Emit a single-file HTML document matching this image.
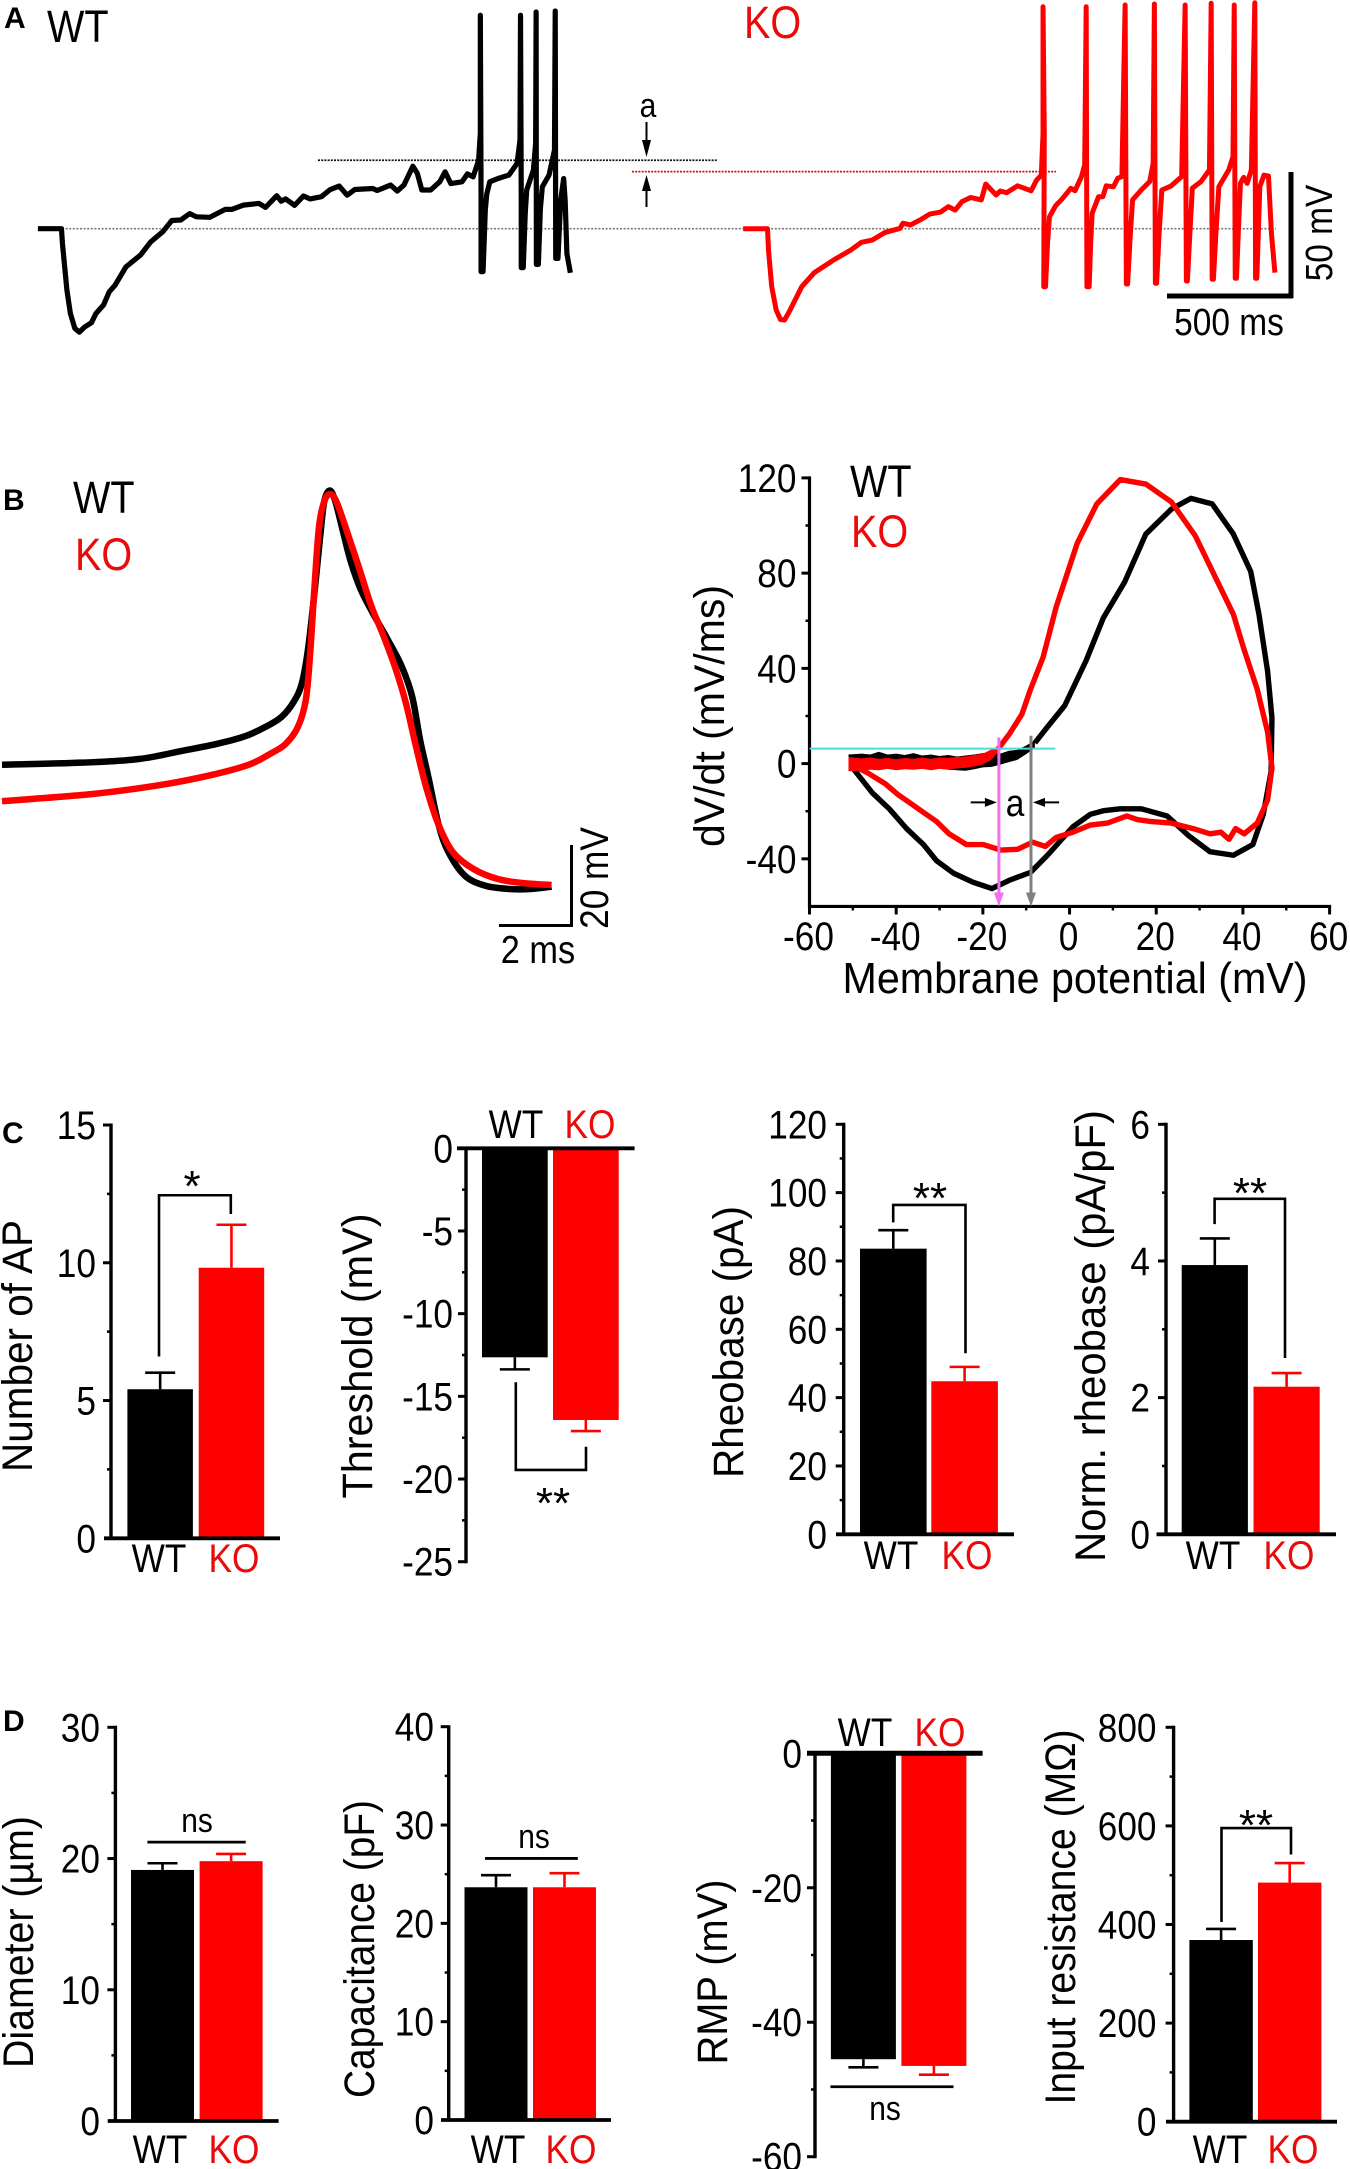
<!DOCTYPE html>
<html lang="en">
<head>
<meta charset="utf-8">
<title>WT vs KO electrophysiology figure</title>
<style>
html,body{margin:0;padding:0;background:#fff;}
svg{display:block;}
text{font-family:"Liberation Sans",sans-serif;fill:#000;}
.letter{font-size:30px;font-weight:bold;}
.legend{font-size:45px;}
.cat{font-size:40px;text-anchor:middle;}
.title{font-size:43px;text-anchor:middle;}
.tick{font-size:40px;}
.scale{font-size:38px;text-anchor:middle;}
.note{font-size:34px;text-anchor:middle;}
.star{font-size:44px;text-anchor:middle;}
.ko{fill:#ea0a0a;}
</style>
</head>
<body>
<svg id="figure" xmlns="http://www.w3.org/2000/svg" width="1350" height="2169" viewBox="0 0 1350 2169">
  <rect x="0" y="0" width="1350" height="2169" fill="#fff"/>

  <!-- Panel A -->
  <text class="letter" x="4" y="28">A</text>
  <text class="legend" x="47" y="42">WT</text>
  <text class="legend ko" x="744" y="38">KO</text>
  <text class="note" x="648" y="117">a</text>
  <g>
    <line x1="646.5" y1="122" x2="646.5" y2="145" stroke="#000" stroke-width="2"/>
    <polygon points="642,140 651,140 646.5,157" fill="#000"/>
    <line x1="646.5" y1="207" x2="646.5" y2="186" stroke="#000" stroke-width="2"/>
    <polygon points="642,191 651,191 646.5,175" fill="#000"/>
  </g>
  <line x1="1291" y1="172" x2="1291" y2="298" stroke="#000" stroke-width="5"/>
  <line x1="1167" y1="296" x2="1293" y2="296" stroke="#000" stroke-width="5"/>
  <text class="scale" x="1229" y="335">500 ms</text>
  <text class="scale" transform="rotate(-90 1332 233)" x="1332" y="233">50 mV</text>

  <!-- Panel B -->
  <text class="letter" x="3" y="510">B</text>
  <text class="legend" x="73" y="513">WT</text>
  <text class="legend ko" x="75" y="570">KO</text>
  <line x1="571.5" y1="845" x2="571.5" y2="927" stroke="#000" stroke-width="3"/>
  <line x1="499" y1="925.5" x2="573" y2="925.5" stroke="#000" stroke-width="3"/>
  <text class="scale" x="538" y="963" style="font-size:39px">2 ms</text>
  <text class="scale" transform="rotate(-90 608 878)" x="608" y="878" style="font-size:40px">20 mV</text>

  <text class="legend" x="850" y="497">WT</text>
  <text class="legend ko" x="851" y="547">KO</text>
  <text class="title" x="1075" y="993" textLength="465" style="font-size:44px">Membrane potential (mV)</text>
  <text class="title" transform="rotate(-90 724 716)" x="724" y="716" textLength="262">dV/dt (mV/ms)</text>
  <text class="note" x="1015" y="816" style="font-size:38px">a</text>

  <!-- Panel C -->
  <text class="letter" x="2" y="1143">C</text>
  <text class="title" transform="rotate(-90 32 1346)" x="32" y="1346" textLength="252">Number of AP</text>
  <text class="cat" x="159" y="1572">WT</text>
  <text class="cat ko" x="234" y="1572">KO</text>
  <text class="star" x="192" y="1201">*</text>

  <text class="title" transform="rotate(-90 372 1356)" x="372" y="1356" textLength="285">Threshold (mV)</text>
  <text class="cat" x="516" y="1138">WT</text>
  <text class="cat ko" x="590" y="1138">KO</text>
  <text class="star" x="553" y="1518">**</text>

  <text class="title" transform="rotate(-90 743 1342)" x="743" y="1342" textLength="272">Rheobase (pA)</text>
  <text class="cat" x="891" y="1569">WT</text>
  <text class="cat ko" x="967" y="1569">KO</text>
  <text class="star" x="930" y="1213">**</text>

  <text class="title" transform="rotate(-90 1105 1336)" x="1105" y="1336" textLength="452">Norm. rheobase (pA/pF)</text>
  <text class="cat" x="1213" y="1569">WT</text>
  <text class="cat ko" x="1289" y="1569">KO</text>
  <text class="star" x="1250" y="1208">**</text>

  <!-- Panel D -->
  <text class="letter" x="3" y="1731">D</text>
  <text class="title" transform="rotate(-90 33 1942)" x="33" y="1942" textLength="252">Diameter (µm)</text>
  <text class="cat" x="160" y="2163">WT</text>
  <text class="cat ko" x="234" y="2163">KO</text>
  <text class="note" x="197" y="1832">ns</text>

  <text class="title" transform="rotate(-90 374 1949)" x="374" y="1949" textLength="298">Capacitance (pF)</text>
  <text class="cat" x="498" y="2163">WT</text>
  <text class="cat ko" x="571" y="2163">KO</text>
  <text class="note" x="534" y="1848">ns</text>

  <text class="title" transform="rotate(-90 727 1972)" x="727" y="1972" textLength="185">RMP (mV)</text>
  <text class="cat" x="865" y="1746">WT</text>
  <text class="cat ko" x="940" y="1746">KO</text>
  <text class="note" x="885" y="2120">ns</text>

  <text class="title" transform="rotate(-90 1075 1917)" x="1075" y="1917" textLength="375">Input resistance (MΩ)</text>
  <text class="cat" x="1220" y="2163">WT</text>
  <text class="cat ko" x="1293" y="2163">KO</text>
  <text class="star" x="1256" y="1840">**</text>
</svg>
<script>
/* ---------- Panel A traces: [time ms, mV relative to pre-pulse baseline] ---------- */
const wtSpikingTrace = [[0,0],[95,0],[99,-6],[108,-15.4],[117,-24.8],[131,-34.2],[149,-40.2],[167,-41.7],[189,-39.6],[216,-37.9],[234,-34.2],[265,-30.7],[288,-25.4],[311,-22.8],[355,-15.4],[414,-10.6],[455,-5.3],[504,-1.2],[540,3.3],[576,3.5],[612,6.1],[639,4.8],[693,4.6],[756,7.8],[783,7.8],[828,9.5],[891,10.2],[918,8.6],[963,13.3],[981,11.1],[999,12],[1035,9.4],[1071,13.2],[1098,12],[1143,12.9],[1179,15.8],[1215,17.2],[1247,13.5],[1278,15.8],[1350,16.2],[1368,15.4],[1422,17.6],[1449,15.2],[1476,17.6],[1512,25.2],[1530,22.3],[1548,15.6],[1584,15.6],[1620,18.9],[1642,22.9],[1665,18.2],[1710,18.9],[1732,22.1],[1755,20.9],[1777,27.6],[1784,38.4],[1784,86.1],[1787,11.5],[1787,-17.3],[1795,-17.3],[1804,7.5],[1810,14],[1822,18.9],[1854,20.2],[1899,21.6],[1932,26.3],[1944,35.7],[1946,86.1],[1949,11.5],[1949,-15.7],[1957,-15.7],[1965,6],[1971,15.6],[1998,23.6],[2007,34.4],[2009,87.4],[2010,-14.4],[2018,-14.4],[2026,8],[2034,16.9],[2061,21.6],[2083,31.7],[2086,87.8],[2088,-12],[2097,-12],[2108,11.5],[2120,20.2],[2126,11.5],[2133,-10],[2147,-17.8]];
const koSpikingTrace = [[0,0],[98,0],[102,-8.6],[115,-23.4],[133,-32.8],[150,-36.6],[167,-36.8],[189,-32.8],[236,-23.4],[287,-17.7],[365,-12.6],[434,-8.6],[477,-5.5],[520,-4.6],[572,-1.5],[632,0.1],[644,2.2],[675,1.5],[718,3.8],[752,5.9],[796,6.7],[827,8.9],[855,7.5],[882,10.9],[917,12.6],[960,11.6],[978,18],[1020,13.6],[1037,15.2],[1062,14.5],[1106,17.3],[1161,15.3],[1183,19.6],[1202,21.6],[1209,38.4],[1209,89.5],[1214,38.4],[1212,-23.4],[1219,-23.4],[1227,-6],[1235,4.8],[1260,9.3],[1286,12],[1321,16.3],[1338,15.3],[1364,21],[1377,25.7],[1383,89.5],[1386,-23.4],[1395,-23.4],[1401,-6],[1407,6.2],[1433,12.9],[1450,12.9],[1464,17.3],[1493,16.9],[1510,20.3],[1527,21],[1540,90.2],[1545,-22.3],[1550,-22.3],[1560,-4],[1570,11.6],[1605,15.6],[1639,19],[1653,26.3],[1658,90.6],[1662,-22],[1667,-22],[1677,-2],[1688,15.6],[1725,17.2],[1768,21],[1782,90.2],[1787,-21.1],[1791,-21.1],[1801,-2],[1811,16.3],[1846,19],[1880,23.7],[1887,90.9],[1891,-20.4],[1896,-20.4],[1906,-2],[1918,16.9],[1958,23.7],[1975,29],[1980,90.2],[1984,-20],[1989,-20],[1997,0],[2005,18.3],[2018,20.7],[2032,18.3],[2049,23.7],[2063,91.1],[2066,-20],[2071,-20],[2077,-2],[2083,16.9],[2100,21.6],[2118,21.2],[2130,-1.9],[2144,-17.7]];
const spikeReferenceLevels = {wtThreshold: 27.6, koThreshold: 23, baseline: 0};

/* ---------- Panel B action-potential waveforms: [ms, mV above trough] ---------- */
const wtActionPotential = [[0,29.9],[2.19,30.4],[3.77,31.3],[5,33.4],[5.9,35],[6.69,36.9],[7.25,39.2],[7.7,41.7],[8.04,45.5],[8.26,50],[8.43,58.4],[8.6,71.7],[8.77,86.7],[8.88,95],[9.03,97.6],[9.18,95],[9.39,87.6],[9.61,80],[9.89,73],[10.23,67.1],[10.62,60.9],[11.01,54.2],[11.3,46.7],[11.52,35.9],[11.75,26.7],[12.03,15],[12.3,8.3],[12.75,2.5],[13.32,0],[13.99,-0.8],[14.56,-0.8],[15.14,-0.2]];
const koActionPotential = [[0,20.9],[2.53,22.7],[4.44,25],[5.79,27.4],[6.8,29.9],[7.37,32.5],[7.81,35],[8.15,39.2],[8.37,45.9],[8.49,57.5],[8.6,72.6],[8.73,88.4],[8.88,95],[9.05,96.7],[9.22,94.7],[9.5,87.6],[9.84,78.4],[10.17,69.2],[10.51,61.7],[10.85,53.4],[11.13,45],[11.41,34.2],[11.69,24.2],[12.03,15],[12.42,8.3],[12.98,4.2],[13.65,1.7],[14.33,0.7],[15.14,0.2]];

/* ---------- Panel B phase plot: loops [mV, dV/dt], noisy bands [mV, upper, lower] ---------- */
const wtPhaseLoop = [[-8,8.7],[-5.1,15.4],[-1.1,24.4],[3.8,43.2],[7.8,61.2],[12.7,76.2],[17.6,96.4],[23.5,106.9],[28,111.4],[32.9,109.1],[37.8,96.4],[41.8,80.7],[43.7,62.7],[45.7,38.7],[46.7,19.2],[46.5,-3.3],[44.7,-21.3],[42.3,-34],[37.8,-38.5],[32.4,-37],[27.5,-30.3],[22.5,-22],[16.6,-19],[11.7,-19],[7.8,-19.8],[4.8,-21.3],[0.8,-26.5],[-5.1,-38.5],[-9,-45.7],[-13.9,-49],[-17.9,-52.5],[-22.3,-49.8],[-26.8,-46],[-30.7,-40.8],[-33.7,-34],[-37.6,-27.3],[-41.6,-19],[-45.5,-12.3],[-50.4,-1]];
const koPhaseLoop = [[-16.4,6.4],[-13.9,12.4],[-11,20.7],[-9,31.2],[-6.1,44.7],[-3.1,65.7],[1.8,92.7],[6.3,109.1],[11.7,119.3],[17.6,117.4],[23.5,109.9],[29,95.7],[33.4,79.2],[37.8,62.7],[40.3,47.7],[43.3,31.2],[45.7,13.2],[46.7,-1.8],[45.7,-15.3],[43.3,-25],[40.3,-29.5],[38.3,-27.3],[36.8,-31.8],[34.9,-28.8],[32.4,-29.5],[28.5,-27.3],[23.5,-25],[18.6,-24.3],[15.6,-23.5],[13.2,-22],[8.7,-25],[4.8,-25.8],[0.8,-28.8],[-3.1,-31],[-5.6,-34.8],[-8.5,-33],[-12,-36],[-15.9,-36.3],[-19.9,-34],[-23.8,-34],[-27.8,-29.5],[-30.7,-24.3],[-33.7,-20.5],[-36.6,-16.8],[-39.6,-13],[-42.5,-8.5],[-46.5,-4],[-50.4,-0.3]];
const wtPhaseBand = [[-51,3.8,-3],[-48,4.2,-2.5],[-46,3.8,-2.2],[-44,5,-2],[-42,3.8,-1.8],[-40,4.2,-2],[-38,3.6,-1.8],[-36,4.4,-2.4],[-34,3.4,-2],[-32,3.8,-2.2],[-30,3.2,-1.8],[-28,3.6,-2.6],[-26,3,-2.8],[-24,3.4,-3],[-22,3.8,-2.4],[-20,4.4,-1.6],[-18,4.6,-1.4],[-16,4.2,-0.5],[-14,5.4,0.6],[-12,5.8,1.6],[-10,7.6,4],[-8,9.8,6.6]];
const koPhaseBand = [[-51,2.8,-3.2],[-48,2.2,-3],[-46,2.6,-2.6],[-44,2,-2.8],[-42,2.4,-2.2],[-40,1.8,-2.8],[-38,2.4,-2.4],[-36,2,-2.6],[-34,2.6,-2.2],[-32,2,-2.8],[-30,2.6,-2.2],[-28,2.4,-2.6],[-26,2.8,-2],[-24,3,-1.8],[-22,3.6,-1.2],[-20,4.2,-0.4],[-18,6,1.6],[-16.5,7.2,4.8]];
const phaseXMajorTicks = [-60,-40,-20,0,20,40,60];
const phaseXMinorTicks = [-50,-30,-10,10,30,50];
const phaseYMajorTicks = [120,80,40,0,-40];
const phaseYMinorTicks = [100,60,20,-20];
const phaseThresholdRate = 6.3;
const phaseThresholdVoltages = {wt: -8.9, ko: -16.3};

/* ---------- Panel C and D bars: [WT, KO] means and mean+SEM error ends ---------- */
const apCountMeans = [5.41, 9.82];
const apCountErrorEnds = [6.01, 11.38];
const apCountTicks = [0,5,10,15];
const apCountMinor = [2.5,7.5,12.5];

const thresholdMeans = [-12.64, -16.43];
const thresholdErrorEnds = [-13.37, -17.1];
const thresholdTicks = [0,-5,-10,-15,-20,-25];
const thresholdMinor = [-2.5,-7.5,-12.5,-17.5,-22.5];

const rheobaseMeans = [83.6, 44.8];
const rheobaseErrorEnds = [89, 49];
const rheobaseTicks = [0,20,40,60,80,100,120];
const rheobaseMinor = [10,30,50,70,90,110];

const normRheobaseMeans = [3.94, 2.16];
const normRheobaseErrorEnds = [4.33, 2.36];
const normRheobaseTicks = [0,2,4,6];
const normRheobaseMinor = [1,3,5];

const diameterMeans = [19.13, 19.8];
const diameterErrorEnds = [19.64, 20.35];
const diameterTicks = [0,10,20,30];
const diameterMinor = [5,15,25];

const capacitanceMeans = [23.67, 23.67];
const capacitanceErrorEnds = [24.9, 25.1];
const capacitanceTicks = [0,10,20,30,40];
const capacitanceMinor = [5,15,25,35];

const rmpMeans = [-45.5, -46.5];
const rmpErrorEnds = [-46.7, -47.8];
const rmpTicks = [0,-20,-40,-60];
const rmpMinor = [-10,-30,-50];

const inputResistanceMeans = [368.5, 485];
const inputResistanceErrorEnds = [391, 524.6];
const inputResistanceTicks = [0,200,400,600,800];
const inputResistanceMinor = [100,300,500,700];

/* ---------- helpers ---------- */
const SVGNS = 'http://www.w3.org/2000/svg';
const figure = document.getElementById('figure');
const BLACK = '#000';
const RED = '#ff0000';

function add(tag, attrs, name, parent) {
  const el = document.createElementNS(SVGNS, tag);
  for (const k in attrs) el.setAttribute(k, attrs[k]);
  
  
  (parent || figure).appendChild(el);
  return el;
}
function linear(d0, d1, r0, r1) {
  return v => r0 + (v - d0) * (r1 - r0) / (d1 - d0);
}
function line(x1, y1, x2, y2, color, width, name, parent, extra) {
  return add('line', Object.assign({x1, y1, x2, y2, stroke: color, 'stroke-width': width}, extra || {}), name, parent);
}
function label(x, y, text, anchor, cls, name, parent) {
  const t = add('text', {x, y, 'text-anchor': anchor, class: cls}, name, parent);
  t.textContent = text;
  return t;
}
function polyPath(points, xs, ys) {
  return points.map((p, i) => (i ? 'L' : 'M') + xs(p[0]).toFixed(2) + ' ' + ys(p[1]).toFixed(2)).join(' ');
}
function bandPoints(rows, xs, ys) {
  const upper = rows.map(r => xs(r[0]).toFixed(2) + ',' + ys(r[1]).toFixed(2));
  const lower = rows.slice().reverse().map(r => xs(r[0]).toFixed(2) + ',' + ys(r[2]).toFixed(2));
  return upper.concat(lower).join(' ');
}
function smoothPath(points, xs, ys) {
  const P = points.map(p => [xs(p[0]), ys(p[1])]);
  let d = 'M' + P[0][0].toFixed(2) + ' ' + P[0][1].toFixed(2);
  for (let i = 0; i < P.length - 1; i++) {
    const a = P[Math.max(i - 1, 0)], b = P[i], c = P[i + 1], e = P[Math.min(i + 2, P.length - 1)];
    d += ' C' + (b[0] + (c[0] - a[0]) / 6).toFixed(2) + ' ' + (b[1] + (c[1] - a[1]) / 6).toFixed(2) + ' ' +
         (c[0] - (e[0] - b[0]) / 6).toFixed(2) + ' ' + (c[1] - (e[1] - b[1]) / 6).toFixed(2) + ' ' +
         c[0].toFixed(2) + ' ' + c[1].toFixed(2);
  }
  return d;
}
function trace(d, color, width, name, parent) {
  return add('path', {d, fill: 'none', stroke: color, 'stroke-width': width, 'stroke-linejoin': 'round', 'stroke-linecap': 'butt'}, name, parent);
}

/* ---------- Panel A ---------- */
(function () {
  const g = add('g', {}, 'spiking-traces-panel');
  const yA = linear(0, 50, 228.7, 104.7);
  const xWT = linear(0, 500, 37.9, 161.9);
  const xKO = linear(0, 500, 743.2, 867.2);
  line(62, yA(spikeReferenceLevels.baseline), 1276, yA(spikeReferenceLevels.baseline), '#777', 1.6, 'baseline-dotted-line', g, {'stroke-dasharray': '2 1.6'});
  line(318, yA(spikeReferenceLevels.wtThreshold), 718, yA(spikeReferenceLevels.wtThreshold), '#111', 1.7, 'wt-threshold-dotted-line', g, {'stroke-dasharray': '2 1.2'});
  line(632, yA(spikeReferenceLevels.koThreshold), 1056, yA(spikeReferenceLevels.koThreshold), '#d01010', 1.7, 'ko-threshold-dotted-line', g, {'stroke-dasharray': '2 1.2'});
  trace(polyPath(wtSpikingTrace, xWT, yA), BLACK, 5.2, 'wt-spiking-trace', g);
  trace(polyPath(koSpikingTrace, xKO, yA), RED, 5, 'ko-spiking-trace', g);
})();

/* ---------- Panel B waveform ---------- */
(function () {
  const g = add('g', {}, 'action-potential-panel');
  const xs = linear(0, 2, 2, 74.6);
  const ys = linear(0, 20, 885.8, 804.8);
  trace(smoothPath(wtActionPotential, xs, ys), BLACK, 6.5, 'wt-action-potential', g);
  trace(smoothPath(koActionPotential, xs, ys), RED, 6.5, 'ko-action-potential', g);
})();

/* ---------- Panel B phase plot ---------- */
(function () {
  const g = add('g', {}, 'phase-plot');
  const xs = linear(-60, 60, 809.5, 1329.6);
  const ys = linear(0, 120, 763.6, 477.9);
  const y0 = ys(-60), xa = xs(-60);
  add('polygon', {points: bandPoints(wtPhaseBand, xs, ys), fill: BLACK}, 'wt-phase-noise-band', g);
  trace(polyPath(wtPhaseLoop, xs, ys), BLACK, 5.4, 'wt-phase-loop', g);
  trace(polyPath(koPhaseLoop, xs, ys), RED, 5.4, 'ko-phase-loop', g);
  add('polygon', {points: bandPoints(koPhaseBand, xs, ys), fill: RED}, 'ko-phase-noise-band', g);

  line(xa, ys(120) - 1.5, xa, y0 + 1.5, BLACK, 3.2, 'phase-y-axis', g);
  line(xa - 1.5, y0, xs(60) + 1.5, y0, BLACK, 3.2, 'phase-x-axis', g);
  phaseYMajorTicks.forEach(v => {
    const tick = line(xa - 8, ys(v), xa, ys(v), BLACK, 3, 'phase-y-tick', g);
    tick.setAttribute('data-value', v);
    label(xa - 13, ys(v) + 14, String(v), 'end', 'tick', 'phase-y-tick-label', g);
  });
  phaseYMinorTicks.forEach(v => line(xa - 4, ys(v), xa, ys(v), BLACK, 2.5, 'phase-y-minor-tick', g));
  phaseXMajorTicks.forEach(v => {
    line(xs(v), y0, xs(v), y0 + 8, BLACK, 3, 'phase-x-tick', g);
    label(xs(v) - 1, 950, String(v), 'middle', 'tick', 'phase-x-tick-label', g);
  });
  phaseXMinorTicks.forEach(v => line(xs(v), y0, xs(v), y0 + 4, BLACK, 2.5, 'phase-x-minor-tick', g));

  const yT = ys(phaseThresholdRate);
  line(xs(-60), yT, xs(-3.3), yT, '#3fe0e0', 2, 'threshold-rate-line', g);
  const xk = xs(phaseThresholdVoltages.ko), xw = xs(phaseThresholdVoltages.wt);
  line(xk, ys(11), xk, y0 - 8, '#f070f0', 3, 'ko-threshold-arrow', g);
  add('polygon', {points: [xk - 5, y0 - 14, xk + 5, y0 - 14, xk, y0].join(' '), fill: '#f070f0'}, 'ko-threshold-arrow-head', g);
  line(xw, ys(11.7), xw, y0 - 8, '#808080', 3, 'wt-threshold-arrow', g);
  add('polygon', {points: [xw - 5, y0 - 14, xw + 5, y0 - 14, xw, y0].join(' '), fill: '#808080'}, 'wt-threshold-arrow-head', g);

  const ya = ys(-16.3);
  line(xs(-22.8), ya, xk - 6, ya, BLACK, 2, 'difference-arrow-left', g);
  add('polygon', {points: [xk - 14, ya - 4.5, xk - 14, ya + 4.5, xk - 2, ya].join(' '), fill: BLACK}, 'difference-arrow-left-head', g);
  line(xs(-2.4), ya, xw + 6, ya, BLACK, 2, 'difference-arrow-right', g);
  add('polygon', {points: [xw + 14, ya - 4.5, xw + 14, ya + 4.5, xw + 2, ya].join(' '), fill: BLACK}, 'difference-arrow-right-head', g);
})();

/* ---------- Bar charts ---------- */
function barChart(cfg) {
  const g = add('g', {}, cfg.name + '-chart');
  const ys = linear(cfg.dom[0], cfg.dom[1], cfg.rng[0], cfg.rng[1]);
  const zeroY = ys(0);
  const colors = [BLACK, RED];
  const series = ['wt', 'ko'];
  cfg.means.forEach((m, i) => {
    const yv = ys(m);
    const cx = cfg.barX[i] + cfg.barW / 2;
    line(cx, yv, cx, ys(cfg.errs[i]), colors[i], 2.6, cfg.name + '-' + series[i] + '-error-bar', g);
    line(cx - 15, ys(cfg.errs[i]), cx + 15, ys(cfg.errs[i]), colors[i], 2.6, cfg.name + '-' + series[i] + '-error-cap', g);
    add('rect', {x: cfg.barX[i], y: Math.min(zeroY, yv), width: cfg.barW, height: Math.abs(yv - zeroY), fill: colors[i]}, cfg.name + '-bar-' + series[i], g);
  });
  const yTop = ys(cfg.ticks[cfg.ticks.length - 1]);
  line(cfg.axisX, Math.min(zeroY, yTop) - 1.5, cfg.axisX, Math.max(zeroY, yTop) + 1.5, BLACK, 3.4, cfg.name + '-y-axis', g);
  line(cfg.baseX[0], zeroY, cfg.baseX[1], zeroY, BLACK, cfg.baseW || 3.8, cfg.name + '-baseline', g);
  cfg.ticks.forEach(v => {
    if (v !== 0) line(cfg.axisX - 8, ys(v), cfg.axisX, ys(v), BLACK, 3, cfg.name + '-y-tick', g);
    label(cfg.labelX, ys(v) + 14, String(v), 'end', 'tick', cfg.name + '-y-tick-label', g);
  });
  cfg.minor.forEach(v => line(cfg.axisX - 4, ys(v), cfg.axisX, ys(v), BLACK, 2.5, cfg.name + '-y-minor-tick', g));
  if (cfg.bracket) {
    const b = cfg.bracket;
    const d = 'M' + b.x[0] + ' ' + ys(b.left) + ' L' + b.x[0] + ' ' + ys(b.top) + ' L' + b.x[1] + ' ' + ys(b.top) + ' L' + b.x[1] + ' ' + ys(b.right);
    add('path', {d, fill: 'none', stroke: BLACK, 'stroke-width': 2.6}, cfg.name + '-significance-bracket', g);
  }
  if (cfg.nsLine) {
    line(cfg.nsLine.x[0], ys(cfg.nsLine.at), cfg.nsLine.x[1], ys(cfg.nsLine.at), BLACK, 2.8, cfg.name + '-ns-line', g);
  }
}

barChart({name:'number-of-ap', means:apCountMeans, errs:apCountErrorEnds, ticks:apCountTicks, minor:apCountMinor,
  dom:[0,15], rng:[1538.3,1125], axisX:111, baseX:[104,280], labelX:96, barX:[127.4,198.7], barW:65.5,
  bracket:{x:[159,230.8], left:6.6, top:12.45, right:11.77}});
barChart({name:'threshold', means:thresholdMeans, errs:thresholdErrorEnds, ticks:thresholdTicks, minor:thresholdMinor,
  dom:[0,-25], rng:[1148.3,1561.7], axisX:466, baseX:[457,634.6], labelX:453, barX:[482,553], barW:65.7,
  bracket:{x:[515.8,586], left:-14.15, top:-19.45, right:-18.05}});
barChart({name:'rheobase', means:rheobaseMeans, errs:rheobaseErrorEnds, ticks:rheobaseTicks, minor:rheobaseMinor,
  dom:[0,120], rng:[1534.3,1124.3], axisX:843.7, baseX:[836,1014], labelX:827, barX:[860,931.3], barW:66.6,
  bracket:{x:[893.2,965.5], left:91.3, top:96.4, right:53}});
barChart({name:'norm-rheobase', means:normRheobaseMeans, errs:normRheobaseErrorEnds, ticks:normRheobaseTicks, minor:normRheobaseMinor,
  dom:[0,6], rng:[1534.3,1124.3], axisX:1166, baseX:[1156.5,1336], labelX:1150, barX:[1181.7,1253.5], barW:66.2,
  bracket:{x:[1214.6,1285], left:4.54, top:4.91, right:2.58}});
barChart({name:'diameter', means:diameterMeans, errs:diameterErrorEnds, ticks:diameterTicks, minor:diameterMinor,
  dom:[0,30], rng:[2121,1727.3], axisX:115.4, baseX:[107.7,278.6], labelX:100, barX:[131,199.6], barW:63,
  nsLine:{x:[147.4,245.7], at:21.25}});
barChart({name:'capacitance', means:capacitanceMeans, errs:capacitanceErrorEnds, ticks:capacitanceTicks, minor:capacitanceMinor,
  dom:[0,40], rng:[2120,1726.7], axisX:448.7, baseX:[441,611], labelX:434, barX:[464.5,533], barW:63,
  nsLine:{x:[485,577.8], at:26.6}});
barChart({name:'rmp', means:rmpMeans, errs:rmpErrorEnds, ticks:rmpTicks, minor:rmpMinor,
  dom:[0,-60], rng:[1753.3,2156.7], axisX:815, baseX:[807,982.6], baseW:5, labelX:802, barX:[830.9,901.4], barW:65,
  nsLine:{x:[830.4,953.5], at:-49.6}});
barChart({name:'input-resistance', means:inputResistanceMeans, errs:inputResistanceErrorEnds, ticks:inputResistanceTicks, minor:inputResistanceMinor,
  dom:[0,800], rng:[2121.7,1727.3], axisX:1173.6, baseX:[1166,1337], labelX:1156.5, barX:[1189.4,1258], barW:63.4,
  bracket:{x:[1221.5,1291], left:405, top:595.6, right:542}});

/* ---------- the reference type is slightly condensed: squeeze glyphs horizontally ---------- */
figure.querySelectorAll('text.tick, text.cat, text.legend, text.scale, text.note').forEach(t => {
  t.setAttribute('textLength', (t.getComputedTextLength() * 0.88).toFixed(1));
  t.setAttribute('lengthAdjust', 'spacingAndGlyphs');
});
figure.querySelectorAll('text.title').forEach(t => {
  t.setAttribute('lengthAdjust', 'spacingAndGlyphs');
});
</script>
</body>
</html>
